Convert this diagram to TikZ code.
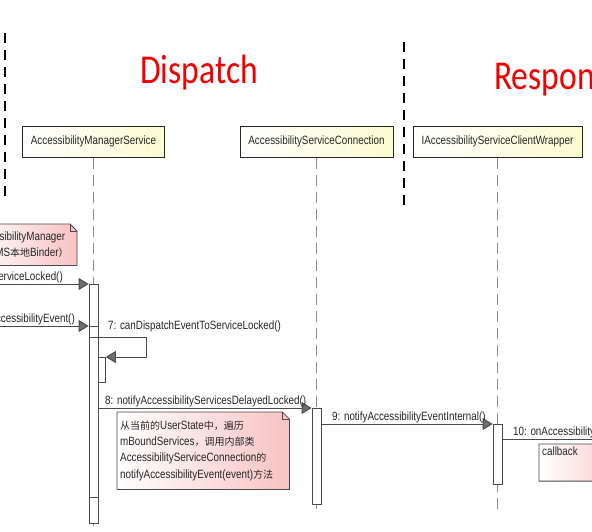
\documentclass[tikz,border=0pt]{standalone}
\usepackage{fontspec}
\setmainfont{Liberation Sans}
\newfontfamily\umlfont[FakeStretch=0.82]{Liberation Sans}
\newfontfamily\titlefont[FakeStretch=0.82]{Carlito}
\newfontfamily\cjk{Noto Sans CJK SC}
\usepackage{tikz}
\usetikzlibrary{arrows.meta,positioning,backgrounds}
\definecolor{headyellow}{HTML}{FBFBD0}
\definecolor{notepink}{HTML}{F8C2C2}
\definecolor{linegray}{HTML}{4A4A4A}
\definecolor{lifegray}{HTML}{8C8C8C}
\definecolor{tipgray}{HTML}{6E6E6E}
\definecolor{titlered}{HTML}{F00000}
\newcommand\zh[1]{{\cjk\fontsize{10}{10}\selectfont #1}}
% note body with folded corner, drawn behind the note text
\newcommand\notefold[1]{%
  \begin{scope}[on background layer]
  \shadedraw[left color=white, right color=notepink, draw=linegray, line width=0.8pt]
    (#1.north west) -- ([xshift=-7pt]#1.north east) -- ([yshift=-7pt]#1.north east)
    -- (#1.south east) -- (#1.south west) -- cycle;
  \end{scope}
  \draw[linegray, line width=0.8pt] ([xshift=-7pt]#1.north east) |- ([yshift=-7pt]#1.north east);
}

\begin{document}
\begin{tikzpicture}[
  x=1pt, y=-1pt,
  every node/.style={font=\umlfont\fontsize{12}{16.3}\selectfont, inner sep=0pt, text=black!85},
  head/.style={draw=black!85, line width=1pt, left color=white, right color=headyellow, minimum height=31pt},
  act/.style={draw=linegray, fill=white, line width=0.8pt, minimum width=9pt, anchor=north},
  lifeline/.style={draw=lifegray, line width=1.2pt, dash pattern=on 11pt off 6pt},
  boundary/.style={draw=black, line width=2.6pt, dash pattern=on 10pt off 7pt},
  msg/.style={draw=linegray, line width=1pt, -{Triangle[length=10pt,width=12pt,fill=tipgray]}},
  lab/.style={anchor=base west},
  note/.style={align=left, inner xsep=3pt},
  title/.style={text=titlered, font=\titlefont\fontsize{41}{41}\selectfont, anchor=base west}
]
\useasboundingbox (0,0) rectangle (592,531);
\clip (0,0) rectangle (592,531);
\begin{scope}[on background layer]
\fill[white] (0,0) rectangle (592,531);
\end{scope}

% titles and boundaries
\node[title] (dispatch) at (140,83) {Dispatch};
\node[title] (response) at (494,89) {Response};
\draw[boundary] (5,33) -- (5,198);
\draw[boundary] (404,42) -- (404,205);

% lifelines
\node[head, minimum width=142pt] (ams) at (93.5,141.5) {AccessibilityManagerService};
\node[head, minimum width=153pt] (conn) at (316.5,141.5) {AccessibilityServiceConnection};
\node[head, minimum width=169pt] (client) at (497.5,141.5) {IAccessibilityServiceClientWrapper};
\coordinate (amsend) at (93.5,527);
\coordinate (connend) at (316.5,514);
\coordinate (clientend) at (497.5,514);
\draw[lifeline] (ams.south) -- (amsend);
\draw[lifeline] (conn.south) -- (connend);
\draw[lifeline] (client.south) -- (clientend);

% activations
\node[act, minimum height=239pt] (amsA) at (93.5,284) {};
\node[act, minimum height=171pt] (amsB) at (93.5,326) {};
\node[act, minimum width=7pt, minimum height=25pt, anchor=north west] (amsC) at (98,357) {};
\node[act, minimum height=96pt] (connA) at (316.5,408) {};
\node[act, minimum height=60pt] (clientA) at (497.5,424) {};

% messages
\coordinate (in5) at (-5,284);
\coordinate (in6) at (-5,326);
\coordinate (out10) at (620,439);
\draw[msg] (in5) -- (amsA.north west);
\node[anchor=base east] (lab5) at (63,280) {ServiceLocked()};
\draw[msg] (in6) -- (amsB.north west);
\node[anchor=base east] (lab6) at (75,322) {AccessibilityEvent()};
\draw[msg] ([yshift=-11pt]amsB.north west) -- ++(58,0) |- (amsC.north east);
\node[lab] (lab7) at (108,329) {7: canDispatchEventToServiceLocked()};
\draw[msg] (amsA.east |- connA.north) -- (connA.north west);
\node[lab] (lab8) at (105,404) {8: notifyAccessibilityServicesDelayedLocked()};
\draw[msg] (connA.east |- clientA.north) -- (clientA.north west);
\node[lab] (lab9) at (332,420) {9: notifyAccessibilityEventInternal()};
\draw[msg] ([yshift=-15pt]clientA.north east) -- (out10);
\node[lab] (lab10) at (513,435) {10: onAccessibilityEvent()};

% notes
\node[note, text width=101pt, minimum height=41pt, anchor=north east] (note5) at (77,224)
  {AccessibilityManager\\\hspace*{6pt}\zh{（}AMS\zh{本地}Binder\zh{）}};
\node[note, text width=166pt, minimum height=77pt, anchor=north west] (note8) at (117,412)
  {\zh{从当前的}UserState\zh{中，遍历}\\
   mBoundServices\zh{，调用内部类}\\
   AccessibilityServiceConnection\zh{的}\\
   notifyAccessibilityEvent(event)\zh{方法}};
\node[note, text width=90pt, text depth=22pt, inner ysep=3pt, anchor=north west] (cbnote) at (539,444) {callback};
\notefold{note5}
\notefold{note8}
\notefold{cbnote}
\end{tikzpicture}
\end{document}
